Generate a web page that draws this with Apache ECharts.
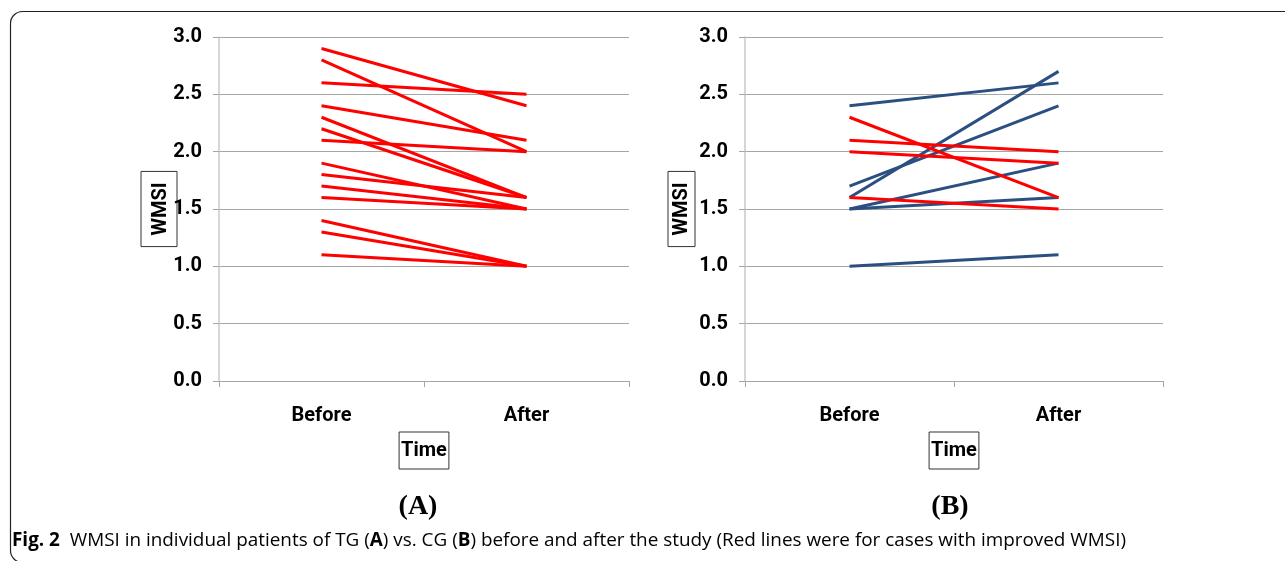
<!DOCTYPE html>
<html>
<head>
<meta charset="utf-8">
<script src="https://cdn.jsdelivr.net/npm/echarts@6/dist/echarts.min.js"></script>
<style>
html,body{margin:0;padding:0;background:#fff;}
#chart{width:1285px;height:561px;}
</style>
</head>
<body>
<div id="chart"></div>
<script>
// ---- data ----
const categories = ['Before', 'After'];
const yTicks = [0, 0.5, 1.0, 1.5, 2.0, 2.5, 3.0];
// Panel A: TG patients
const tgBefore = [2.9, 2.8, 2.6, 2.4, 2.3, 2.2, 2.1, 1.9, 1.8, 1.7, 1.6, 1.4, 1.3, 1.1];
const tgAfter  = [2.4, 2.0, 2.5, 2.1, 1.6, 1.6, 2.0, 1.5, 1.6, 1.5, 1.5, 1.0, 1.0, 1.0];
// Panel B: CG patients
const cgBefore = [2.4, 1.6, 1.7, 1.5, 1.5, 1.0, 2.3, 2.1, 2.0, 1.6];
const cgAfter  = [2.6, 2.7, 2.4, 1.9, 1.6, 1.1, 1.6, 2.0, 1.9, 1.5];
const panelLabels = ['(A)', '(B)'];
const captionParts = [
  ['b', 'Fig. 2'], ['r', '  WMSI in individual patients of TG ('], ['b', 'A'], ['r', ') vs. CG ('],
  ['b', 'B'], ['r', ') before and after the study (Red lines were for cases with improved WMSI)']
];

const RED = '#ff0000';
const BLUE = '#2b4f81';
const lblFont = 'Roboto, "Noto Sans", sans-serif';

function makeSeries(before, after, gridIdx) {
  return before.map((b, i) => ({
    type: 'line',
    xAxisIndex: gridIdx,
    yAxisIndex: gridIdx,
    data: [b, after[i]],
    symbol: 'none',
    silent: true,
    lineStyle: { width: 3, color: after[i] < before[i] ? RED : BLUE },
    z: after[i] < before[i] ? 3 : 2
  }));
}

const grids = [
  { left: 219, width: 410, top: 37, height: 344 },
  { left: 745, width: 418, top: 37, height: 344 }
];

function xAxis(idx) {
  return {
    type: 'category', gridIndex: idx, data: categories, boundaryGap: true,
    axisLine: { lineStyle: { color: '#a6a6a6', width: 1 } },
    axisTick: { show: true, length: 6, lineStyle: { color: '#a6a6a6' } },
    axisLabel: { margin: 25, fontFamily: lblFont, fontWeight: 'bold', fontSize: 20, color: '#000' },
    name: 'Time', nameLocation: 'middle', nameGap: 51, nameMoveOverlap: false,
    nameTextStyle: { fontFamily: lblFont, fontWeight: 'bold', fontSize: 20, color: '#000', lineHeight: 22,
      borderColor: '#333', borderWidth: 1, padding: [8, 2, 7, 2] }
  };
}
function yAxis(idx) {
  return {
    type: 'value', gridIndex: idx, min: 0, max: 3, interval: 0.5,
    axisLine: { show: true, lineStyle: { color: '#c8c8c8', width: 1.5 } },
    axisTick: { show: true, length: 6, lineStyle: { color: '#a6a6a6' } },
    splitLine: { show: true, lineStyle: { color: '#a6a6a6', width: 1 } },
    axisLabel: { margin: 17, fontFamily: lblFont, fontWeight: 'bold', fontSize: 20, color: '#000',
      formatter: v => v.toFixed(1) },
    name: 'WMSI', nameLocation: 'middle', nameRotate: 90, nameGap: idx === 0 ? 42 : 50, nameMoveOverlap: false,
    nameTextStyle: { fontFamily: lblFont, fontWeight: 'bold', fontSize: 20, color: '#000', lineHeight: 22,
      borderColor: '#333', borderWidth: 1, padding: idx === 0 ? [9, 11, 5, 11] : [3, 11, 2, 11] }
  };
}

const rich = {
  b: { fontFamily: '"Open Sans", sans-serif', fontWeight: 'bold', fontSize: 18.9, color: '#231f20' },
  r: { fontFamily: '"Open Sans", sans-serif', fontSize: 18.9, color: '#231f20' }
};

const chart = echarts.init(document.getElementById('chart'), null, { renderer: 'canvas' });
chart.setOption({
  animation: false,
  backgroundColor: '#fff',
  grid: grids,
  xAxis: [xAxis(0), xAxis(1)],
  yAxis: [yAxis(0), yAxis(1)],
  series: [...makeSeries(tgBefore, tgAfter, 0), ...makeSeries(cgBefore, cgAfter, 1)],
  graphic: [
    { type: 'rect', shape: { x: 10.5, y: 11.5, width: 1320, height: 551, r: 12 },
      style: { fill: 'none', stroke: '#222', lineWidth: 1.2 }, silent: true },
    { type: 'text', x: 418, y: 507, style: { text: panelLabels[0], font: 'bold 28px "Liberation Serif", serif',
      fill: '#000', align: 'center', verticalAlign: 'middle' } },
    { type: 'text', x: 950, y: 507, style: { text: panelLabels[1], font: 'bold 28px "Liberation Serif", serif',
      fill: '#000', align: 'center', verticalAlign: 'middle' } },
    { type: 'text', x: 12, y: 541, style: {
      text: captionParts.map(p => '{' + p[0] + '|' + p[1] + '}').join(''),
      verticalAlign: 'middle', rich: rich } }
  ]
});
</script>
</body>
</html>
